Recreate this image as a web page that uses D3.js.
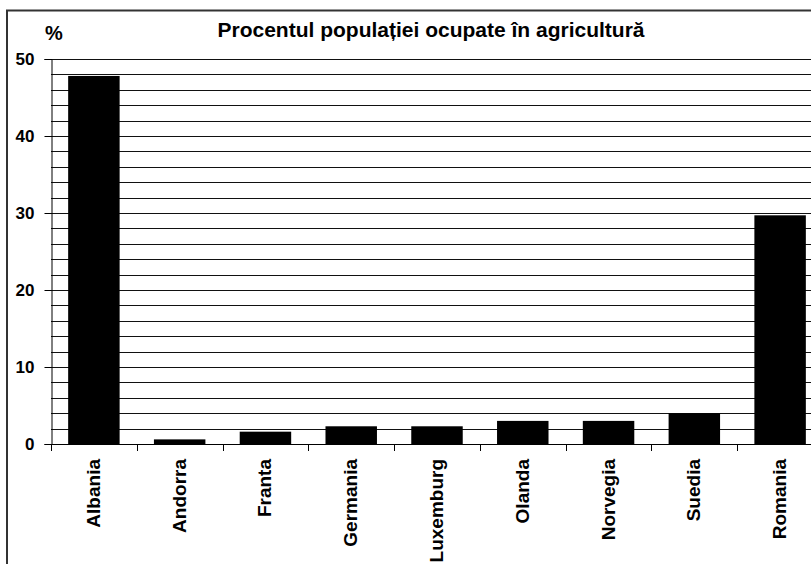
<!DOCTYPE html>
<html><head><meta charset="utf-8">
<script src="https://cdn.jsdelivr.net/npm/d3@7"></script>
<style>body{margin:0;background:#fff;}svg{display:block;}</style>
</head><body>
<script>
const categories = ["Albania","Andorra","Franta","Germania","Luxemburg","Olanda","Norvegia","Suedia","Romania"];
const values = [47.8, 0.6, 1.6, 2.3, 2.3, 3.0, 3.0, 4.0, 29.7];
const yTicks = [0, 10, 20, 30, 40, 50];
const title = "Procentul populației ocupate în agricultură";
const yLabel = "%";

(function () {
const W = 811, H = 564;
const svg = d3.select("body").append("svg").attr("width", W).attr("height", H);
const font = "'Liberation Sans', Arial, sans-serif";

svg.append("rect").attr("x", 7).attr("y", 10.5).attr("width", 900).attr("height", 700)
  .attr("fill", "#fff").attr("stroke", "#333").attr("stroke-width", 2);

const pl = 51, pr = 823, pt = 59, pb = 444;
const x = d3.scaleBand().domain(categories).range([pl, pr]).paddingInner(0.4).paddingOuter(0.2);
const y = d3.scaleLinear().domain([0, 50]).range([pb, pt]);

const grid = d3.range(2, 51, 2);
svg.append("g").selectAll("line").data(grid).join("line")
  .attr("x1", pl).attr("x2", pr)
  .attr("y1", d => Math.round(y(d)) + 0.5).attr("y2", d => Math.round(y(d)) + 0.5)
  .attr("stroke", "#111").attr("stroke-width", 1);

svg.append("g").selectAll("rect").data(values).join("rect")
  .attr("x", (d, i) => x(categories[i]))
  .attr("width", x.bandwidth())
  .attr("y", d => y(d))
  .attr("height", d => y(0) - y(d))
  .attr("fill", "#000");

const yAxis = d3.axisLeft(y).tickValues(yTicks).tickSize(7).tickPadding(10).tickFormat(d3.format("d"));
const gy = svg.append("g").attr("transform", `translate(${pl + 0.5},0)`).call(yAxis);
gy.select(".domain").attr("stroke", "#000");
gy.selectAll(".tick line").attr("stroke", "#000");
gy.selectAll(".tick text").attr("font-family", font).attr("font-weight", "bold").attr("font-size", 17).attr("fill", "#000");
gy.selectAll(".tick").attr("transform", d => `translate(0,${Math.round(y(d)) + 0.5})`);

svg.append("line").attr("x1", pl).attr("x2", pr).attr("y1", pb + 0.5).attr("y2", pb + 0.5).attr("stroke", "#000");
const step = x.step();
const bounds = d3.range(categories.length + 1).map(i => x(categories[0]) - x.paddingOuter() * step + i * step);
svg.append("g").selectAll("line").data(bounds).join("line")
  .attr("x1", d => Math.round(d) + 0.5).attr("x2", d => Math.round(d) + 0.5)
  .attr("y1", pb).attr("y2", pb + 7).attr("stroke", "#000");

svg.append("g").selectAll("text").data(categories).join("text")
  .attr("transform", d => `translate(${x(d) + x.bandwidth() / 2 + 6},${pb + 15}) rotate(-90)`)
  .attr("text-anchor", "end")
  .attr("font-family", font).attr("font-weight", "bold").attr("font-size", 19)
  .text(d => d);

svg.append("text").attr("x", 431).attr("y", 36.5).attr("text-anchor", "middle")
  .attr("font-family", font).attr("font-weight", "bold").attr("font-size", 21)
  .text(title);

svg.append("text").attr("x", 45).attr("y", 40)
  .attr("font-family", font).attr("font-weight", "bold").attr("font-size", 20)
  .text(yLabel);
})();
</script>
</body></html>
